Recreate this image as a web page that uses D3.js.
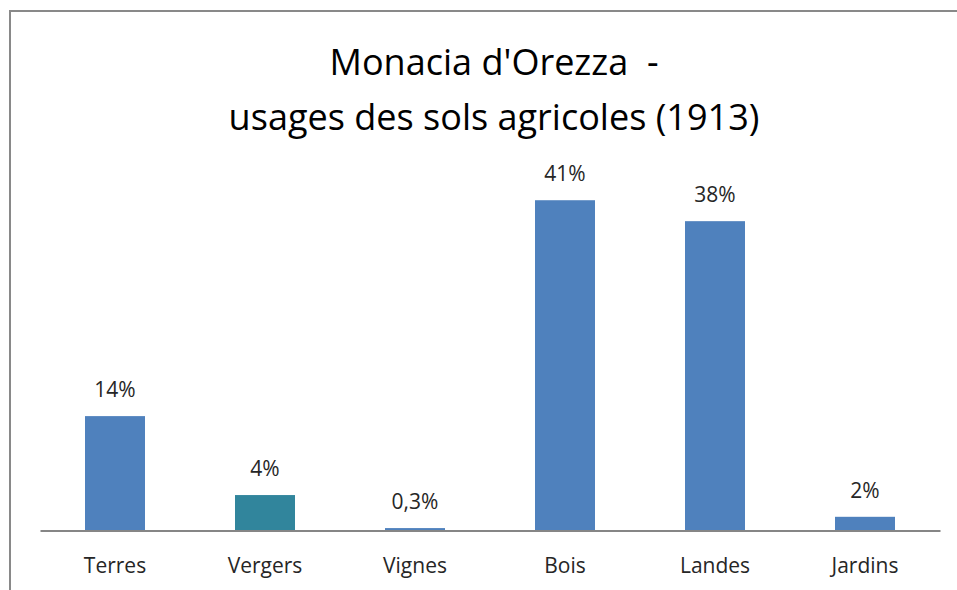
<!DOCTYPE html>
<html>
<head>
<meta charset="utf-8">
<script src="https://cdn.jsdelivr.net/npm/d3@7"></script>
<style>
  body { margin: 0; background: #fff; }
  text { font-family: "Open Sans", sans-serif; fill: #000; }
</style>
</head>
<body>
<svg id="chart" width="957" height="590"></svg>
<script>
// data
var categories = ["Terres", "Vergers", "Vignes", "Bois", "Landes", "Jardins"];
var shares = [0.142, 0.044, 0.003, 0.410, 0.384, 0.017];
var shareLabels = ["14%", "4%", "0,3%", "41%", "38%", "2%"];
var barColors = ["#4f81bd", "#31859c", "#4f81bd", "#4f81bd", "#4f81bd", "#4f81bd"];
var titleLines = ["Monacia d'Orezza  -", "usages des sols agricoles (1913)"];

var svg = d3.select("#chart"),
    margin = {top: 168, right: 17, bottom: 59.5, left: 40},
    width = +svg.attr("width") - margin.left - margin.right,
    height = +svg.attr("height") - margin.top - margin.bottom;

// outer frame (left and top only visible)
svg.append("path")
    .attr("d", "M10,590V11H957")
    .attr("fill", "none")
    .attr("stroke", "#898989")
    .attr("stroke-width", 2);

// title
var title = svg.append("g").attr("class", "title");
title.selectAll("text")
  .data(titleLines)
  .enter().append("text")
    .attr("x", 494)
    .attr("y", function(d, i) { return i == 0 ? 75 : 130; })
    .attr("text-anchor", "middle")
    .style("font-size", "32px")
    .style("white-space", "pre")
    .text(function(d) { return d; });

// fit title width to the picture (second line ~531px wide)
var t2 = title.selectAll("text").nodes()[1];
var fs = 32 * 531 / t2.getComputedTextLength();
title.selectAll("text").style("font-size", fs + "px");

var g = svg.append("g").attr("transform", "translate(" + margin.left + "," + margin.top + ")");

var x = d3.scaleBand()
    .domain(categories)
    .range([0, width])
    .paddingInner(0.6)
    .paddingOuter(0.3);

var y = d3.scaleLinear()
    .domain([0, 0.45])
    .range([height, 0]);

g.selectAll(".bar")
  .data(categories)
  .enter().append("rect")
    .attr("class", "bar")
    .attr("x", function(d) { return x(d); })
    .attr("y", function(d, i) { return y(shares[i]); })
    .attr("width", x.bandwidth())
    .attr("height", function(d, i) { return height - y(shares[i]); })
    .attr("fill", function(d, i) { return barColors[i]; });

g.selectAll(".val")
  .data(categories)
  .enter().append("text")
    .attr("class", "val")
    .attr("x", function(d) { return x(d) + x.bandwidth() / 2; })
    .attr("y", function(d, i) { return y(shares[i]) - 19; })
    .attr("text-anchor", "middle")
    .style("font-size", "21px")
    .style("fill", "#262626")
    .text(function(d, i) { return shareLabels[i]; });

var xAxis = g.append("g")
    .attr("class", "axis axis--x")
    .attr("transform", "translate(0," + height + ")")
    .call(d3.axisBottom(x).tickSize(0).tickPadding(0));

xAxis.select(".domain")
    .attr("stroke", "#868686")
    .attr("stroke-width", 2);

xAxis.selectAll(".tick text")
    .attr("dy", null)
    .attr("y", 42.5)
    .style("font-size", "21px")
    .style("fill", "#262626")
    .style("font-family", "'Open Sans', sans-serif");
</script>
</body>
</html>
